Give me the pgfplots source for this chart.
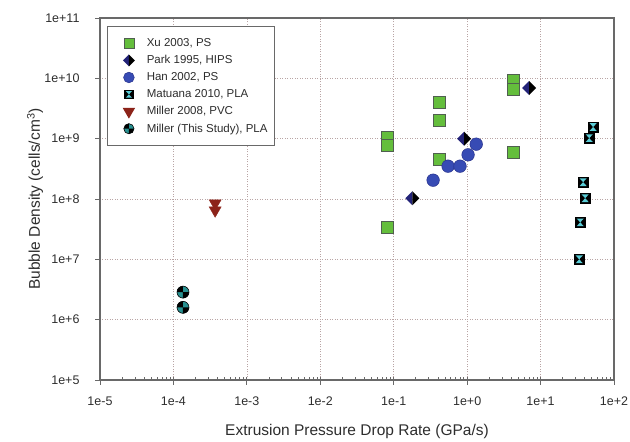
\documentclass[border=0pt]{standalone}
\usepackage{fontspec}
\setmainfont{Liberation Sans}
\usepackage{pgfplots}
\pgfplotsset{compat=1.18}
\definecolor{xugreen}{RGB}{100,190,60}
\definecolor{xuedge}{RGB}{80,95,80}
\definecolor{parknavy}{RGB}{35,35,120}
\definecolor{hanblue}{RGB}{55,75,180}
\definecolor{hanedge}{RGB}{40,50,140}
\definecolor{matcyan}{RGB}{90,205,215}
\definecolor{pvcred}{RGB}{140,35,25}
\definecolor{millteal}{RGB}{40,145,145}
\definecolor{gridc}{RGB}{185,165,165}
\definecolor{axisgray}{RGB}{105,105,105}
\definecolor{txt}{RGB}{45,45,45}

\pgfdeclareplotmark{hourglass}{%
  \pgfpathrectangle{\pgfpoint{-\pgfplotmarksize}{-\pgfplotmarksize}}{\pgfpoint{2\pgfplotmarksize}{2\pgfplotmarksize}}%
  \pgfsetfillcolor{black}\pgfusepath{fill}%
  \pgfpathmoveto{\pgfpoint{-0.65\pgfplotmarksize}{0.7\pgfplotmarksize}}%
  \pgfpathlineto{\pgfpoint{0.65\pgfplotmarksize}{0.7\pgfplotmarksize}}%
  \pgfpathlineto{\pgfpoint{0pt}{0pt}}\pgfpathclose
  \pgfpathmoveto{\pgfpoint{-0.65\pgfplotmarksize}{-0.7\pgfplotmarksize}}%
  \pgfpathlineto{\pgfpoint{0.65\pgfplotmarksize}{-0.7\pgfplotmarksize}}%
  \pgfpathlineto{\pgfpoint{0pt}{0pt}}\pgfpathclose
  \pgfsetfillcolor{matcyan}\pgfusepath{fill}%
}
\pgfdeclareplotmark{quadcircle}{%
  \pgfpathcircle{\pgfpointorigin}{\pgfplotmarksize}%
  \pgfsetfillcolor{millteal}\pgfusepath{fill}%
  \pgfpathmoveto{\pgfpointorigin}\pgfpathlineto{\pgfpoint{-\pgfplotmarksize}{0pt}}%
  \pgfpatharc{180}{90}{\pgfplotmarksize}\pgfpathclose
  \pgfpathmoveto{\pgfpointorigin}\pgfpathlineto{\pgfpoint{\pgfplotmarksize}{0pt}}%
  \pgfpatharc{0}{-90}{\pgfplotmarksize}\pgfpathclose
  \pgfsetfillcolor{black}\pgfusepath{fill}%
  \pgfpathcircle{\pgfpointorigin}{\pgfplotmarksize}%
  \pgfsetstrokecolor{black}\pgfsetlinewidth{0.6pt}\pgfusepath{stroke}%
}
\pgfdeclareplotmark{parkdiamond}{%
  \pgfpathmoveto{\pgfpoint{0pt}{\pgfplotmarksize}}%
  \pgfpathlineto{\pgfpoint{-\pgfplotmarksize}{0pt}}%
  \pgfpathlineto{\pgfpoint{0pt}{-\pgfplotmarksize}}\pgfpathclose
  \pgfsetfillcolor{parknavy}\pgfusepath{fill}%
  \pgfpathmoveto{\pgfpoint{0pt}{\pgfplotmarksize}}%
  \pgfpathlineto{\pgfpoint{\pgfplotmarksize}{0pt}}%
  \pgfpathlineto{\pgfpoint{0pt}{-\pgfplotmarksize}}\pgfpathclose
  \pgfsetfillcolor{black}\pgfusepath{fill}%
}

\begin{document}
\begin{tikzpicture}
\useasboundingbox (-100pt,-62pt) rectangle (530pt,380pt);
\begin{axis}[
  at={(0,0)}, anchor=south west,
  scale only axis, width=514pt, height=362pt,
  xmode=log, ymode=log,
  xmin=1e-5, xmax=1e2, ymin=1e5, ymax=1e11,
  xtick={1e-5,1e-4,1e-3,1e-2,1e-1,1,10,100},
  xticklabels={1e-5,1e-4,1e-3,1e-2,1e-1,1e+0,1e+1,1e+2},
  ytick={1e5,1e6,1e7,1e8,1e9,1e10,1e11},
  yticklabels={1e+5,1e+6,1e+7,1e+8,1e+9,1e+10,1e+11},
  yminorticks=false,
  xtick pos=bottom, ytick pos=left,
  tick align=outside,
  major tick length=5pt, minor tick length=-3pt,
  tick style={draw=axisgray, line width=0.8pt},
  axis line style={draw=axisgray, line width=1.1pt},
  grid=major,
  major grid style={draw=gridc, dash pattern=on 1pt off 1.5pt, line width=0.7pt},
  ticklabel style={font=\fontsize{12.5}{14}\selectfont, text=txt},
  yticklabel style={xshift=-12pt},
  xticklabel style={yshift=-8pt},
  /pgf/number format/assume math mode=true,
  xlabel={Extrusion Pressure Drop Rate (GPa/s)},
  ylabel={Bubble Density (cells/cm\textsuperscript{3})},
  label style={font=\fontsize{15.5}{18}\selectfont, text=txt},
  xlabel style={at={(axis description cs:0.5,-0.1436)}, anchor=center},
  ylabel style={at={(axis description cs:-0.1265,0.5)}, anchor=center},
  legend style={at={(0.0136,0.978)}, anchor=north west, draw=axisgray, line width=1.2pt,
    font=\fontsize{11.5}{13}\selectfont, text=txt, row sep=3.4pt, inner xsep=5pt, inner ysep=10pt,
    cells={anchor=west}},
  legend cell align=left,
  legend image code/.code={\path (0pt,0pt) (31pt,0pt); \draw[#1, scale=0.85] plot coordinates {(18.5pt,0pt)};},
]
\addplot[only marks, mark=square*, mark size=6pt, mark options={fill=xugreen, draw=xuedge, line width=0.6pt}]
  coordinates {(0.081,1.05e9) (0.081,7.8e8) (0.081,3.4e7) (0.42,4e9) (0.42,2e9) (0.42,4.6e8) (4.2,9.3e9) (4.2,6.6e9) (4.2,6e8)};
\addlegendentry{Xu 2003, PS}
\addplot[only marks, mark=parkdiamond, mark size=7pt]
  coordinates {(7,6.9e9) (0.91,1e9) (0.18,1.03e8)};
\addlegendentry{Park 1995, HIPS}
\addplot[only marks, mark=*, mark size=6.3pt, mark options={fill=hanblue, draw=hanedge, line width=0.5pt}]
  coordinates {(0.344,2.05e8) (0.55,3.5e8) (0.80,3.5e8) (1.03,5.4e8) (1.33,8.1e8)};
\addlegendentry{Han 2002, PS}
\addplot[only marks, mark=hourglass, mark size=5.5pt]
  coordinates {(52,1.56e9) (46,1.02e9) (38,1.9e8) (40.5,1.03e8) (34.7,4.1e7) (33.6,1.0e7)};
\addlegendentry{Matuana 2010, PLA}
\addplot[only marks, mark=triangle*, mark size=7pt, mark options={rotate=180, fill=pvcred, draw=pvcred}]
  coordinates {(3.7e-4,8.5e7) (3.7e-4,6.5e7)};
\addlegendentry{Miller 2008, PVC}
\addplot[only marks, mark=quadcircle, mark size=6pt]
  coordinates {(1.35e-4,2.86e6) (1.35e-4,1.6e6)};
\addlegendentry{Miller (This Study), PLA}
\end{axis}
\end{tikzpicture}
\end{document}
